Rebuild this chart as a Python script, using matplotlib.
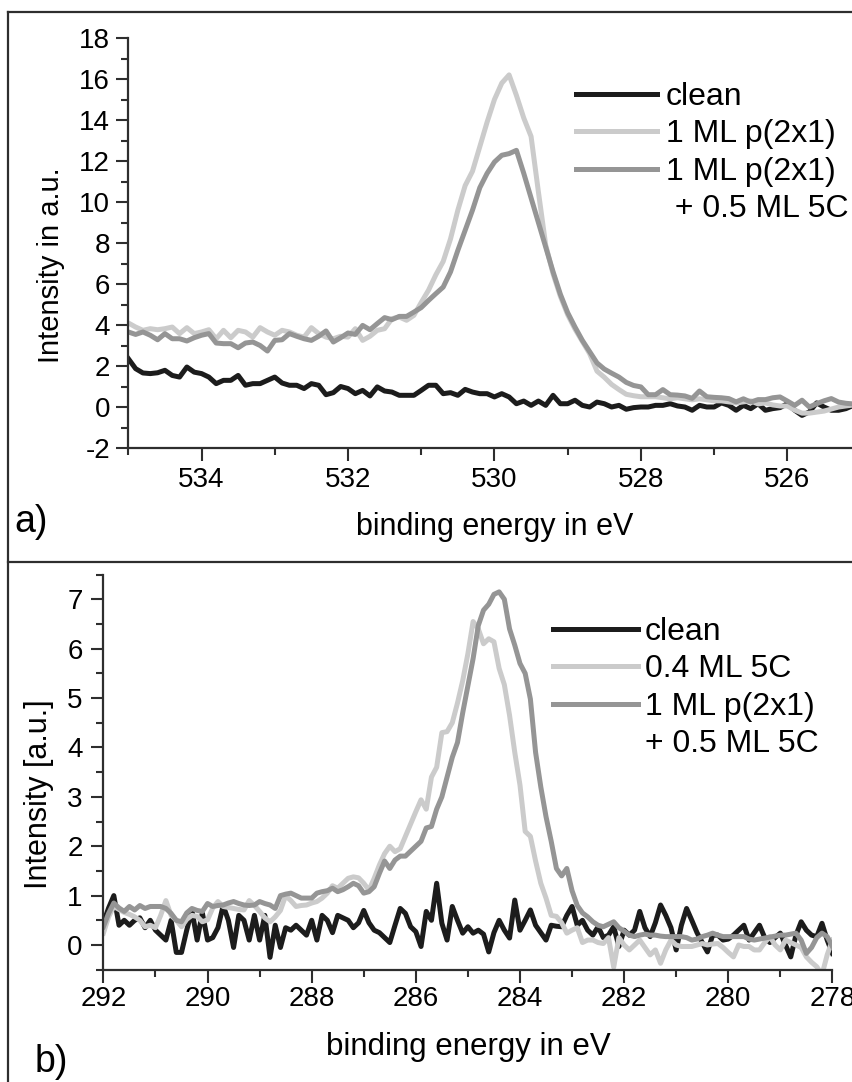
import numpy as np
import matplotlib.pyplot as plt
from matplotlib.lines import Line2D
from matplotlib.ticker import MultipleLocator

plt.rcParams['font.family'] = ['Liberation Sans', 'DejaVu Sans']
plt.rcParams['axes.unicode_minus'] = False

# a) O 1s, 535 -> 525 eV, Schritt 0.1 eV
energia_a = np.round(np.arange(535.0, 524.95, -0.1), 1)
a_clean = [2.36, 1.87, 1.66, 1.63, 1.67, 1.79, 1.54, 1.46, 1.95, 1.70,
           1.63, 1.46, 1.14, 1.30, 1.30, 1.54, 1.06, 1.14, 1.14, 1.30,
           1.46, 1.17, 1.06, 1.06, 0.90, 1.14, 1.06, 0.60, 0.70, 1.00,
           0.90, 0.65, 0.81, 0.54, 0.98, 0.78, 0.73, 0.57, 0.57, 0.57,
           0.81, 1.06, 1.06, 0.65, 0.70, 0.57, 0.86, 0.73, 0.65, 0.65,
           0.49, 0.65, 0.49, 0.16, 0.29, 0.08, 0.29, 0.08, 0.57, 0.16,
           0.16, 0.33, 0.08, 0.00, 0.24, 0.16, 0.00, 0.08, -0.11, -0.03,
           0.00, 0.00, 0.08, 0.08, 0.16, 0.05, 0.00, -0.16, 0.08, 0.00,
           0.00, 0.20, 0.08, -0.16, 0.08, -0.08, 0.16, -0.16, -0.08, -0.03,
           0.16, -0.16, -0.41, -0.24, 0.20, 0.00, -0.16, -0.16, -0.08, 0.08,
           0.12]
a_p2x1 = [4.10, 3.90, 3.74, 3.82, 3.77, 3.82, 3.90, 3.58, 3.87, 3.58,
          3.66, 3.77, 3.33, 3.74, 3.38, 3.74, 3.66, 3.41, 3.87, 3.66,
          3.50, 3.74, 3.66, 3.50, 3.41, 3.87, 3.58, 3.41, 3.33, 3.45,
          3.41, 3.82, 3.25, 3.45, 3.74, 3.82, 4.31, 4.39, 4.23, 4.47,
          5.10, 5.70, 6.45, 7.10, 8.20, 9.60, 10.8, 11.5, 12.7, 13.9,
          15.0, 15.8, 16.2, 15.2, 14.1, 13.2, 10.5, 7.90, 6.50, 5.40,
          4.50, 3.80, 3.20, 2.60, 1.75, 1.45, 1.10, 0.85, 0.62, 0.55,
          0.50, 0.50, 0.50, 0.45, 0.40, 0.45, 0.40, 0.35, 0.40, 0.35,
          0.30, 0.30, 0.25, 0.20, 0.25, 0.30, 0.15, 0.20, 0.10, 0.05,
          0.05, -0.15, -0.30, -0.30, -0.25, -0.20, -0.10, 0.00, 0.05, 0.10,
          0.10]
a_p2x1_5c = [3.66, 3.54, 3.66, 3.50, 3.28, 3.58, 3.33, 3.33, 3.22, 3.38,
             3.50, 3.58, 3.12, 3.09, 3.09, 2.89, 3.12, 3.17, 3.00, 2.73,
             3.25, 3.28, 3.58, 3.45, 3.33, 3.25, 3.45, 3.71, 3.17, 3.38,
             3.61, 3.54, 3.98, 3.77, 4.07, 4.36, 4.26, 4.42, 4.42, 4.63,
             4.85, 5.20, 5.53, 5.85, 6.59, 7.64, 8.62, 9.60, 10.7, 11.4,
             11.95, 12.28, 12.36, 12.52, 11.4, 10.2, 9.00, 7.80, 6.60, 5.50,
             4.60, 3.90, 3.25, 2.70, 2.15, 1.85, 1.65, 1.46, 1.20, 1.05,
             0.98, 0.60, 0.60, 0.85, 0.60, 0.58, 0.54, 0.42, 0.78, 0.50,
             0.47, 0.45, 0.41, 0.25, 0.40, 0.24, 0.36, 0.36, 0.45, 0.49,
             0.29, 0.08, 0.33, 0.00, 0.16, 0.30, 0.41, 0.24, 0.18, 0.15,
             0.12]

# b) C 1s, 292 -> 278 eV, Schritt 0.1 eV
energia_b = np.round(np.arange(292.0, 277.95, -0.1), 1)
b_clean = [0.45, 0.75, 1.00, 0.40, 0.50, 0.40, 0.50, 0.55, 0.35, 0.50,
           0.30, 0.20, 0.10, 0.50, -0.15, -0.15, 0.30, 0.70, 0.10, 0.65,
           0.10, 0.15, 0.35, 0.80, 0.50, -0.05, 0.60, 0.50, 0.10, 0.60,
           0.10, 0.60, -0.25, 0.40, -0.05, 0.35, 0.30, 0.40, 0.30, 0.20,
           0.50, 0.10, 0.60, 0.50, 0.25, 0.60, 0.55, 0.50, 0.35, 0.45,
           0.70, 0.45, 0.30, 0.25, 0.15, 0.05, 0.40, 0.74, 0.64, 0.37,
           0.27, -0.03, 0.68, 0.50, 1.25, 0.44, 0.10, 0.78, 0.50, 0.24,
           0.37, 0.24, 0.30, 0.22, -0.14, 0.25, 0.50, 0.30, 0.14, 0.91,
           0.30, 0.50, 0.71, 0.40, 0.25, 0.10, 0.40, 0.38, 0.37, 0.60,
           0.78, 0.40, 0.50, 0.30, 0.20, 0.37, 0.15, 0.20, 0.37, -0.03,
           0.30, 0.20, 0.30, 0.68, 0.35, 0.17, 0.45, 0.81, 0.60, 0.35,
           -0.10, 0.40, 0.74, 0.50, 0.25, 0.05, -0.14, 0.20, 0.20, 0.10,
           0.12, 0.20, 0.30, 0.40, 0.10, 0.25, 0.40, 0.15, 0.05, 0.15,
           0.24, 0.00, -0.24, 0.20, 0.47, 0.30, 0.20, 0.17, 0.44, 0.10,
           -0.17]
b_5c = [0.24, 0.57, 0.78, 0.72, 0.66, 0.62, 0.57, 0.50, 0.37, 0.40,
        0.35, 0.60, 0.90, 0.60, 0.50, 0.37, 0.52, 0.60, 0.58, 0.47,
        0.51, 0.75, 0.88, 0.78, 0.76, 0.74, 0.72, 0.71, 0.90, 0.80,
        0.68, 0.55, 0.47, 0.57, 0.70, 1.00, 0.90, 0.78, 0.80, 0.81,
        0.85, 0.88, 0.95, 1.05, 1.20, 1.15, 1.25, 1.35, 1.38, 1.36,
        1.25, 1.11, 1.35, 1.62, 1.85, 2.00, 1.89, 1.95, 2.20, 2.45,
        2.70, 2.94, 2.75, 3.40, 3.60, 4.30, 4.32, 4.50, 4.90, 5.35,
        5.90, 6.55, 6.40, 6.10, 6.20, 6.14, 5.60, 5.27, 4.65, 3.90,
        3.24, 2.30, 2.20, 1.70, 1.25, 0.95, 0.60, 0.58, 0.45, 0.24,
        0.30, 0.35, 0.05, 0.10, 0.10, 0.05, 0.03, 0.15, -0.45, 0.15,
        0.00, -0.10, 0.00, 0.10, -0.05, -0.20, -0.10, -0.37, -0.10, 0.10,
        0.00, -0.03, -0.03, -0.03, 0.00, 0.03, 0.00, 0.02, 0.03, -0.05,
        -0.15, -0.24, 0.00, -0.03, -0.03, -0.10, -0.10, 0.05, 0.17, 0.00,
        -0.10, 0.10, 0.05, 0.00, -0.05, -0.24, -0.35, -0.44, -0.60, -0.20,
        0.10]
b_p2x1_5c = [0.37, 0.64, 0.85, 0.75, 0.68, 0.78, 0.71, 0.80, 0.74, 0.78,
             0.78, 0.78, 0.74, 0.64, 0.50, 0.47, 0.65, 0.74, 0.70, 0.68,
             0.84, 0.78, 0.80, 0.81, 0.85, 0.88, 0.84, 0.81, 0.80, 0.81,
             0.88, 0.84, 0.81, 0.74, 1.00, 1.03, 1.05, 1.00, 0.95, 0.95,
             0.95, 1.05, 1.08, 1.10, 1.15, 1.08, 1.12, 1.18, 1.25, 1.20,
             1.05, 1.08, 1.18, 1.45, 1.70, 1.55, 1.72, 1.80, 1.80, 1.90,
             2.00, 2.10, 2.37, 2.40, 2.75, 3.00, 3.40, 3.80, 4.10, 4.70,
             5.25, 5.80, 6.47, 6.78, 6.90, 7.10, 7.15, 7.00, 6.40, 6.07,
             5.70, 5.50, 4.98, 3.90, 3.20, 2.60, 2.10, 1.55, 1.40, 1.55,
             1.10, 0.80, 0.65, 0.57, 0.47, 0.40, 0.37, 0.42, 0.47, 0.35,
             0.28, 0.20, 0.17, 0.20, 0.22, 0.20, 0.20, 0.18, 0.17, 0.17,
             0.17, 0.17, 0.15, 0.10, 0.12, 0.17, 0.20, 0.24, 0.20, 0.17,
             0.17, 0.17, 0.17, 0.17, 0.12, 0.10, 0.12, 0.14, 0.16, 0.18,
             0.20, 0.20, 0.22, 0.24, 0.10, -0.17, -0.05, 0.15, 0.24, 0.17,
             -0.03]

negro = '#1c1c1c'
gris_claro = '#cbcbcb'
gris = '#959595'
lw = 3.6

W, H = 853, 1082
def fx(px):
    return px / W
def fy(py):
    return 1 - py / H

fig = plt.figure(figsize=(W / 100, H / 100), dpi=100)

# marco de los paneles
marco = dict(color='#2e2e2e', lw=1.6, transform=fig.transFigure)
fig.add_artist(Line2D([fx(8), 1], [fy(12), fy(12)], **marco))
fig.add_artist(Line2D([fx(8), 1], [fy(562), fy(562)], **marco))
fig.add_artist(Line2D([fx(8), fx(8)], [fy(12), 0], **marco))


def estilo(ax):
    for s in ['top', 'right']:
        ax.spines[s].set_visible(False)
    for s in ['left', 'bottom']:
        ax.spines[s].set_linewidth(1.6)
        ax.spines[s].set_color('#2e2e2e')
    ax.tick_params(which='major', direction='out', length=9, width=1.5,
                   labelsize=20, color='#2e2e2e')
    ax.tick_params(which='minor', direction='out', length=5, width=1.5,
                   color='#2e2e2e')


def leyenda(ax, etiquetas, x0, y0, hl, pad):
    handles = [Line2D([], [], color=negro, lw=lw),
               Line2D([], [], color=gris_claro, lw=lw),
               Line2D([], [], color=gris, lw=lw),
               Line2D([], [], linestyle='none')]
    ax.legend(handles, etiquetas, loc='upper left',
              bbox_to_anchor=(fx(x0), fy(y0)), bbox_transform=fig.transFigure,
              frameon=False, fontsize=23, borderpad=0, borderaxespad=0,
              handlelength=hl, handletextpad=pad, labelspacing=0.23)


# panel a)
ax1 = fig.add_axes([fx(128.3), fy(448), (860.6 - 128.3) / W, (448 - 38) / H])
ax1.plot(energia_a, a_clean, color=negro, lw=lw)
ax1.plot(energia_a, a_p2x1, color=gris_claro, lw=lw)
ax1.plot(energia_a, a_p2x1_5c, color=gris, lw=lw)
ax1.set_xlim(535, 525)
ax1.set_ylim(-2, 18)
ax1.xaxis.set_major_locator(MultipleLocator(2))
ax1.xaxis.set_minor_locator(MultipleLocator(1))
ax1.yaxis.set_major_locator(MultipleLocator(2))
ax1.yaxis.set_minor_locator(MultipleLocator(1))
estilo(ax1)
ax1.tick_params(axis='x', pad=5)
ax1.tick_params(axis='y', pad=4)
ax1.set_xlabel('binding energy in eV', fontsize=22)
ax1.xaxis.set_label_coords(0.5, -0.155)
ax1.set_ylabel('Intensity in a.u.', fontsize=21)
ax1.yaxis.set_label_coords(-0.086, 0.445)
leyenda(ax1, ['clean', '1 ML p(2x1)', '1 ML p(2x1)', ' + 0.5 ML 5C'],
        576, 82, 2.54, 0.28)
fig.text(fx(14), fy(522), 'a)', fontsize=27, va='center', ha='left')

# panel b)
ax2 = fig.add_axes([fx(103.4), fy(969.7), (832.4 - 103.4) / W, (969.7 - 574.6) / H])
ax2.plot(energia_b, b_clean, color=negro, lw=lw)
ax2.plot(energia_b, b_5c, color=gris_claro, lw=lw)
ax2.plot(energia_b, b_p2x1_5c, color=gris, lw=lw)
ax2.set_xlim(292, 278)
ax2.set_ylim(-0.5, 7.5)
ax2.xaxis.set_major_locator(MultipleLocator(2))
ax2.xaxis.set_minor_locator(MultipleLocator(1))
ax2.yaxis.set_major_locator(MultipleLocator(1))
ax2.yaxis.set_minor_locator(MultipleLocator(0.5))
estilo(ax2)
ax2.tick_params(axis='x', pad=3)
ax2.tick_params(axis='y', pad=6)
ax2.set_xlabel('binding energy in eV', fontsize=22.5)
ax2.xaxis.set_label_coords(0.5, -0.158)
ax2.set_ylabel('Intensity [a.u.]', fontsize=22)
ax2.yaxis.set_label_coords(-0.068, 0.445)
leyenda(ax2, ['clean', '0.4 ML 5C', '1 ML p(2x1)', '+ 0.5 ML 5C'],
        553, 617, 2.66, 0.22)
fig.text(fx(35), fy(1062), 'b)', fontsize=27, va='center', ha='left')

fig.savefig('out.png', dpi=100)
